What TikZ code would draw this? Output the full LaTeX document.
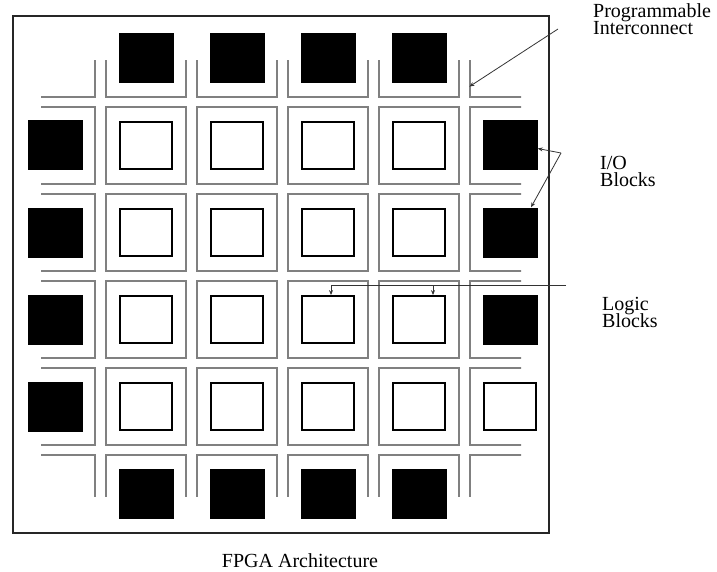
\documentclass[tikz,border=0pt]{standalone}
\usepackage{fontspec}
\setmainfont{Liberation Serif}
\usetikzlibrary{arrows.meta}
\newcommand{\tightfont}{\fontsize{20}{17}\selectfont\lineskiplimit=-100pt\relax}

\begin{document}
\begin{tikzpicture}[x=1pt, y=-1pt,
		cell/.style = {rectangle, draw=black!50, line width=1.2pt, minimum width=80, minimum height=77, inner sep=0},
		lb/.style = {rectangle, draw=black, line width=1.8pt, minimum width=52, minimum height=47, inner sep=0},
		io/.style = {rectangle, fill=black, minimum width=55, minimum height=50, inner sep=0},
		lbl/.style = {align=left, inner sep=0, anchor=north west, font=\tightfont},
		pt/.style = {-{Stealth[length=5pt, width=4pt]}, draw=black!80, line width=0.8pt},
		]
		\useasboundingbox (0,0) rectangle (717,572);
		
		% === === Chip === ===
		\draw[line width=1.5pt, black!85] (13,16) rectangle (549,533);
		
		% === === Interconnect === ===
		\begin{scope}
			\clip (41,61) rectangle (521,496);
			\foreach \i in {0,...,5}
				\foreach \j in {0,...,5}
					\node[cell] (c-\i-\j) at ({55+91*\i}, {58.5+87*\j}) {};
		\end{scope}
		
		% === === Blocks === ===
		\foreach \i in {1,...,4}
			\foreach \j in {1,...,4}
				\node[lb] (b-\i-\j) at (c-\i-\j) {};
		\node[lb] (b-5-4) at (c-5-4) {};
		
		\foreach \k in {1,...,4} {
			\node[io] (b-0-\k) at (c-0-\k) {};
			\node[io] (b-\k-0) at (c-\k-0) {};
			\node[io] (b-\k-5) at (c-\k-5) {};
		}
		\foreach \k in {1,2,3}
			\node[io] (b-5-\k) at (c-5-\k) {};
		
		% === === Labels === ===
		\node[lbl] (pi)  at (593,3)   {Programmable\\Interconnect};
		\node[lbl] (iob) at (600,156) {I/O\\Blocks};
		\node[lbl] (lgb) at (602,297) {Logic\\Blocks};
		\node[font=\fontsize{20}{24}\selectfont, anchor=base] (cap) at (300,567) {FPGA Architecture};
		
		% === === Pointers === ===
		\coordinate (pi-a) at (558,29);
		\coordinate (io-a) at (561,153);
		\coordinate (lg-a) at (566,285);
		
		\draw[pt]	(pi-a)	--	([yshift=11pt]c-5-0.south west);
		\draw[pt]	(io-a)	--	([yshift=-3pt]b-5-1.east);
		\draw[pt]	(io-a)	--	([xshift=21pt]b-5-2.north);
		\draw[pt]	(lg-a)	-|	([xshift=3pt]b-3-3.north);
		\draw[pt]	([xshift=14pt]b-4-3.north |- lg-a)	--	([xshift=14pt]b-4-3.north);
		
	\end{tikzpicture}
\end{document}
